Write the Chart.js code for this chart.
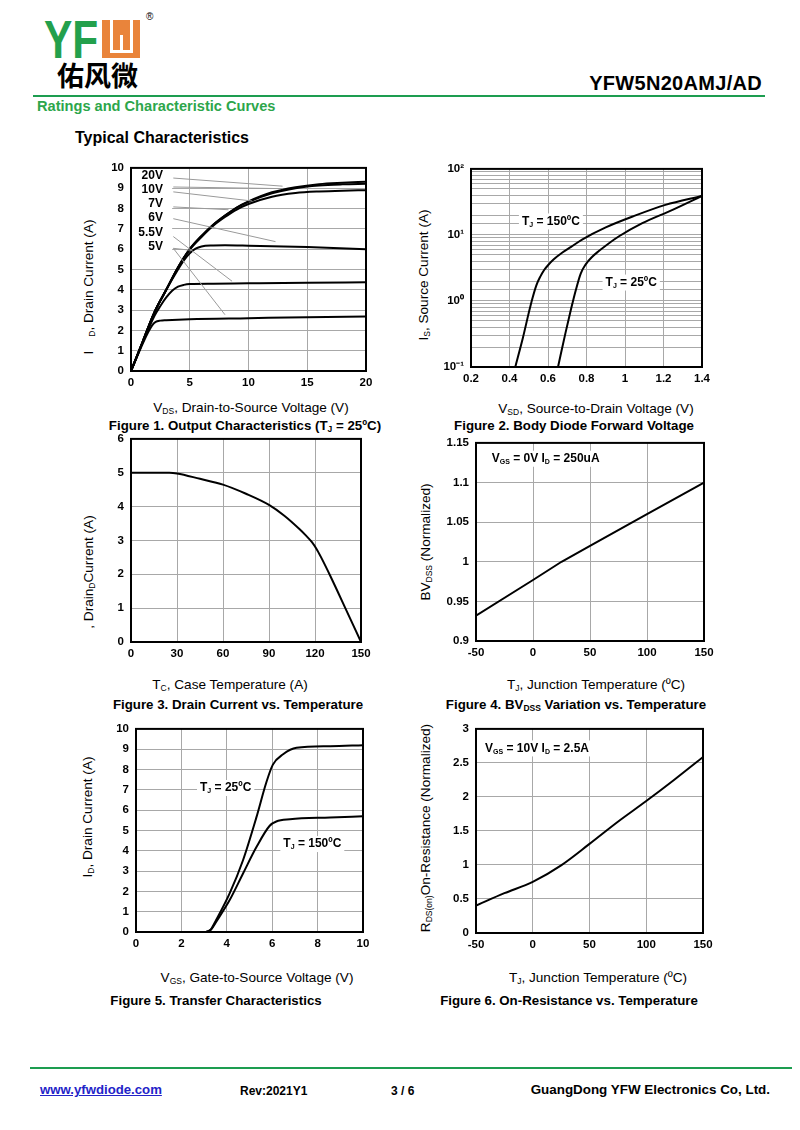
<!DOCTYPE html>
<html>
<head>
<meta charset="utf-8">
<script src="https://cdn.jsdelivr.net/npm/chart.js@4.4.1/dist/chart.umd.min.js"></script>
<style>
body { margin: 0; background: #fff; }
#page { position: relative; width: 800px; height: 1130px; overflow: hidden; font-family: "Liberation Sans", Arial, sans-serif; color: #000; }
.abs { position: absolute; white-space: nowrap; }
canvas { position: absolute; }
.xt { font-size: 13.6px; transform: translate(-50%, -50%); }
.yt { font-size: 13.6px; transform: translate(-50%, -50%) rotate(-90deg); }
.cap { font-size: 13.3px; font-weight: bold; transform: translate(-50%, -50%); }
sub { font-size: 8.5px; vertical-align: -2px; line-height: 0; }
</style>
</head>
<body>
<div id="page">
  <!-- header -->
  <div class="abs" style="left:44px;top:13px;font:bold 53px 'Liberation Sans',Arial;line-height:53px;color:#23a04c;transform:scaleX(0.8);transform-origin:left top;">YF</div>
  <div class="abs" style="left:102px;top:20px;width:38px;height:38px;background:#e9843b;"></div>
  <div class="abs" style="left:110px;top:20px;width:2.5px;height:32px;background:#fff;"></div>
  <div class="abs" style="left:130px;top:20px;width:2.5px;height:32px;background:#fff;"></div>
  <div class="abs" style="left:110px;top:50px;width:22.5px;height:2.5px;background:#fff;"></div>
  <div class="abs" style="left:120px;top:35px;width:2.5px;height:16px;background:#fff;"></div>
  <div class="abs" style="left:146px;top:11px;font-size:10px;">®</div>
  <div class="abs" style="left:57px;top:58px;font:bold 27px 'Noto Sans CJK SC';line-height:34px;">佑风微</div>
  <div class="abs" style="right:38px;top:71px;font-weight:bold;font-size:20px;letter-spacing:0.3px;line-height:24px;">YFW5N20AMJ/AD</div>
  <div class="abs" style="left:33px;top:95px;width:732px;height:2px;background:#1d9d50;"></div>
  <div class="abs" style="left:37px;top:98px;font-weight:bold;font-size:14.6px;line-height:17px;color:#2da64b;">Ratings and Characteristic Curves</div>
  <div class="abs" style="left:75px;top:129px;font-weight:bold;font-size:16px;line-height:18px;">Typical Characteristics</div>

  <!-- axis titles and captions -->
  <div class="abs yt" style="left:88px;top:287px;">I<span style="display:inline-block;width:14px"></span><sub>D</sub>, Drain Current (A)</div>
  <div class="abs xt" style="left:251px;top:407px;">V<sub>DS</sub>, Drain-to-Source Voltage (V)</div>
  <div class="abs cap" style="left:245px;top:425px;">Figure 1. Output Characteristics (T<sub>J</sub> = 25ºC)</div>

  <div class="abs yt" style="left:423px;top:275px;">I<sub>S</sub>, Source Current (A)</div>
  <div class="abs xt" style="left:596px;top:408px;">V<sub>SD</sub>, Source-to-Drain Voltage (V)</div>
  <div class="abs cap" style="left:574px;top:425px;">Figure 2. Body Diode Forward Voltage</div>

  <div class="abs yt" style="left:88px;top:572px;">, Drain<sub>D</sub>Current (A)</div>
  <div class="abs xt" style="left:230px;top:684px;">T<sub>C</sub>, Case Temperature (A)</div>
  <div class="abs cap" style="left:238px;top:704px;">Figure 3. Drain Current vs. Temperature</div>

  <div class="abs yt" style="left:425px;top:542px;">BV<sub>DSS</sub> (Normalized)</div>
  <div class="abs xt" style="left:596px;top:684px;">T<sub>J</sub>, Junction Temperature (ºC)</div>
  <div class="abs cap" style="left:576px;top:704px;">Figure 4. BV<sub>DSS</sub> Variation vs. Temperature</div>

  <div class="abs yt" style="left:87px;top:817px;">I<sub>D</sub>, Drain Current (A)</div>
  <div class="abs xt" style="left:257px;top:977px;">V<sub>GS</sub>, Gate-to-Source Voltage (V)</div>
  <div class="abs cap" style="left:216px;top:1000px;">Figure 5. Transfer Characteristics</div>

  <div class="abs yt" style="left:425px;top:828px;">R<sub>DS(on)</sub>On-Resistance (Normalized)</div>
  <div class="abs xt" style="left:598px;top:977px;">T<sub>J</sub>, Junction Temperature (ºC)</div>
  <div class="abs cap" style="left:569px;top:1000px;">Figure 6. On-Resistance vs. Temperature</div>

  <!-- footer -->
  <div class="abs" style="left:30px;top:1067px;width:762px;height:2px;background:#1d9d50;"></div>
  <div class="abs" style="left:40px;top:1082px;font-weight:bold;font-size:13.2px;color:#2323c8;text-decoration:underline;">www.yfwdiode.com</div>
  <div class="abs" style="left:240px;top:1084px;font-weight:bold;font-size:12px;">Rev:2021Y1</div>
  <div class="abs" style="left:391px;top:1084px;font-weight:bold;font-size:12px;">3 / 6</div>
  <div class="abs" style="right:30px;top:1082px;font-weight:bold;font-size:13.4px;">GuangDong YFW Electronics Co, Ltd.</div>
</div>

<script>
// Figure 1: output characteristics, VDS (V) -> ID (A) per VGS
const vdsTop = [0, 1, 2, 3, 4, 5, 6, 7, 8, 9, 10, 12, 14, 16, 18, 20];
const id20V = [0, 1.45, 2.9, 4.0, 5.1, 6.0, 6.65, 7.2, 7.65, 8.05, 8.35, 8.8, 9.05, 9.2, 9.27, 9.32];
const id10V = [0, 1.45, 2.9, 4.0, 5.1, 6.0, 6.65, 7.2, 7.65, 8.05, 8.33, 8.75, 9.0, 9.13, 9.19, 9.22];
const id7V  = [0, 1.45, 2.9, 4.0, 5.1, 5.98, 6.6, 7.15, 7.58, 7.95, 8.22, 8.58, 8.76, 8.84, 8.88, 8.9];
const vds6V = [0, 1, 2, 3, 4, 4.5, 5, 5.5, 6, 7, 8, 10, 15, 20];
const id6V  = [0, 1.45, 2.9, 4.0, 5.0, 5.45, 5.8, 6.02, 6.13, 6.18, 6.19, 6.17, 6.1, 6.0];
const vds55V = [0, 1, 2, 2.5, 3, 3.5, 4, 4.5, 5, 7, 10, 15, 20];
const id55V  = [0, 1.42, 2.72, 3.2, 3.62, 3.95, 4.15, 4.24, 4.28, 4.3, 4.32, 4.35, 4.37];
const vds5V = [0, 1, 1.5, 1.8, 2.1, 2.5, 3, 5, 10, 15, 20];
const id5V  = [0, 1.35, 1.95, 2.25, 2.42, 2.48, 2.5, 2.55, 2.6, 2.65, 2.68];
const vgsLabels = ['20V', '10V', '7V', '6V', '5.5V', '5V'];
const vgsLabelY = [9.6, 8.91, 8.24, 7.55, 6.83, 6.13];
// leader lines, data units: [x1, y1, x2, y2]
const leaders = [[3.6, 9.5, 12.9, 9.1], [3.6, 9.06, 12.9, 8.98], [3.6, 8.82, 10.3, 8.37], [3.6, 8.08, 8.3, 7.94],
                 [3.6, 7.5, 12.3, 6.37], [3.6, 6.62, 8.6, 4.42], [3.6, 6.04, 8.0, 2.77], [3.6, 6.04, 5.0, 5.95]];

// Figure 2: body diode, VSD (V) -> IS (A)
const vsd150 = [0.43, 0.47, 0.5, 0.52, 0.54, 0.56, 0.58, 0.6, 0.63, 0.673, 0.72, 0.777, 0.9, 1.04, 1.21, 1.4];
const is150  = [0.1, 0.28, 0.66, 1.12, 1.74, 2.34, 2.95, 3.47, 4.27, 5.37, 6.6, 8.5, 13, 19, 28.5, 39];
const vsd25 = [0.652, 0.69, 0.72, 0.745, 0.77, 0.795, 0.83, 0.864, 0.91, 0.969, 1.09, 1.247, 1.4];
const is25  = [0.1, 0.32, 0.76, 1.48, 2.6, 3.55, 4.68, 5.7, 7.24, 9.55, 15.1, 24, 39];

// Figure 3: drain current vs case temperature
const tCase = [0, 25, 30, 45, 60, 75, 90, 100, 110, 114, 118, 121, 124, 130, 140, 150];
const idCase = [5, 5, 4.98, 4.82, 4.65, 4.38, 4.05, 3.73, 3.33, 3.15, 2.95, 2.75, 2.5, 1.95, 0.98, 0];

// Figure 4: BVDSS vs junction temperature
const tjBv = [-50, 0, 25, 50, 100, 150];
const bvNorm = [0.932, 0.977, 1.0, 1.02, 1.06, 1.1];

// Figure 5: transfer characteristics, VGS (V) -> ID (A)
const vgs25 = [0, 2, 3, 3.15, 3.3, 3.53, 4.12, 4.71, 5.3, 5.74, 6.03, 6.48, 7.07, 8.55, 10];
const idT25 = [0, 0, 0, 0.03, 0.13, 0.59, 1.89, 3.52, 5.63, 7.36, 8.24, 8.75, 9.07, 9.15, 9.2];
const vgs150 = [0, 2, 3, 3.15, 3.3, 3.53, 4.12, 4.71, 5.3, 5.89, 6.18, 6.78, 8.55, 10];
const idT150 = [0, 0, 0, 0.03, 0.11, 0.5, 1.56, 2.87, 4.17, 5.23, 5.44, 5.55, 5.64, 5.7];

// Figure 6: RDS(on) vs junction temperature
const tjRds = [-50, -25, 0, 25, 50, 75, 100, 125, 150];
const rdsNorm = [0.403, 0.585, 0.752, 0.995, 1.31, 1.636, 1.94, 2.257, 2.587];

const FONT = '"Liberation Sans", Arial, Helvetica, sans-serif';
const GRID = '#a8a8a8';
const TICK_FONT = { family: FONT, size: 11.5, weight: 'bold' };
const trim = v => String(+(+v).toFixed(2));
const pts = (xs, ys) => xs.map((x, i) => ({ x: x, y: ys[i] }));

function curve(xs, ys, extra) {
  return Object.assign({
    data: pts(xs, ys), borderColor: '#000', borderWidth: 2, pointRadius: 0,
    cubicInterpolationMode: 'monotone', fill: false
  }, extra || {});
}

function axis(pos, min, max, step, extra) {
  const horiz = pos === 'bottom';
  return Object.assign({
    type: 'linear', position: pos, min: min, max: max,
    ticks: {
      stepSize: step, color: '#000', font: TICK_FONT,
      padding: horiz ? 5 : 7, autoSkip: false, maxRotation: 0, callback: trim
    },
    grid: { color: GRID, lineWidth: 1, drawTicks: false },
    border: { display: false },
    afterFit: s => { if (horiz) s.height = 28; else s.width = 50; }
  }, extra || {});
}

// black box round the plot area
const frame = {
  id: 'frame',
  afterDraw(c) {
    const a = c.chartArea, ctx = c.ctx;
    ctx.save();
    ctx.strokeStyle = '#000';
    ctx.lineWidth = 2;
    ctx.strokeRect(a.left, a.top, a.right - a.left, a.bottom - a.top);
    ctx.restore();
  }
};

function partsWidth(ctx, parts) {
  let w = 0;
  parts.forEach(p => {
    ctx.font = p[1] ? 'bold 7px ' + FONT : 'bold 12px ' + FONT;
    w += ctx.measureText(p[0]).width;
  });
  return w;
}

// text notes in data units, with optional white backing
function notes(list, clearBox) {
  const place = (c, n) => {
    const w = partsWidth(c.ctx, n.parts);
    const px = c.scales.x.getPixelForValue(n.x);
    return { left: n.align === 'right' ? px - w : px, y: c.scales.y.getPixelForValue(n.y), w: w };
  };
  return {
    id: 'notes',
    beforeDatasetsDraw(c) {
      const ctx = c.ctx;
      ctx.save();
      ctx.fillStyle = '#fff';
      if (clearBox) {
        const x1 = c.scales.x.getPixelForValue(clearBox[0]), x2 = c.scales.x.getPixelForValue(clearBox[1]);
        const y1 = c.scales.y.getPixelForValue(clearBox[3]), y2 = c.scales.y.getPixelForValue(clearBox[2]);
        ctx.fillRect(x1, y1, x2 - x1, y2 - y1);
      }
      list.forEach(n => {
        if (!n.bg) return;
        const p = place(c, n);
        ctx.fillRect(p.left - 3, p.y - 8, p.w + 6, 16);
      });
      ctx.restore();
    },
    afterDatasetsDraw(c) {
      const ctx = c.ctx;
      ctx.save();
      ctx.fillStyle = '#000';
      ctx.textBaseline = 'middle';
      list.forEach(n => {
        const p = place(c, n);
        let cx = p.left;
        n.parts.forEach(part => {
          ctx.font = part[1] ? 'bold 7px ' + FONT : 'bold 12px ' + FONT;
          ctx.fillText(part[0], cx, part[1] ? p.y + 3.5 : p.y);
          cx += ctx.measureText(part[0]).width;
        });
      });
      ctx.restore();
    }
  };
}

function makeChart(box, datasets, scales, plugins) {
  const cv = document.createElement('canvas');
  const w = box.w + 68, h = box.h + 40;
  cv.width = w; cv.height = h;
  cv.style.left = (box.l - 50) + 'px';
  cv.style.top = (box.t - 12) + 'px';
  cv.style.width = w + 'px';
  cv.style.height = h + 'px';
  document.getElementById('page').appendChild(cv);
  return new Chart(cv.getContext('2d'), {
    type: 'line',
    data: { datasets: datasets },
    options: {
      responsive: false, animation: false, events: [],
      layout: { padding: { left: 0, top: 12, right: 18, bottom: 0 } },
      plugins: { legend: { display: false }, tooltip: { enabled: false } },
      scales: scales
    },
    plugins: [frame].concat(plugins || [])
  });
}

// Figure 1
const fig1Leaders = leaders.map(s => ({
  data: [{ x: s[0], y: s[1] }, { x: s[2], y: s[3] }],
  borderColor: '#9a9a9a', borderWidth: 1, pointRadius: 0, tension: 0, fill: false
}));
makeChart({ l: 131, t: 166, w: 235, h: 205 },
  fig1Leaders.concat([
    curve(vds5V, id5V), curve(vds55V, id55V), curve(vds6V, id6V),
    curve(vdsTop, id7V), curve(vdsTop, id10V), curve(vdsTop, id20V)
  ]),
  { x: axis('bottom', 0, 20, 5), y: axis('left', 0, 10, 1) },
  [notes(vgsLabels.map((t, i) => ({ x: 2.72, y: vgsLabelY[i], align: 'right', parts: [[t]] })), [0.08, 3.5, 5.85, 9.93])]
);

// Figure 2
const sup = { '-1': '10⁻¹', '0': '10⁰', '1': '10¹', '2': '10²' };
makeChart({ l: 471, t: 167, w: 231, h: 200 },
  [curve(vsd150, is150), curve(vsd25, is25)],
  {
    x: axis('bottom', 0.2, 1.4, 0.2),
    y: axis('left', 0.1, 100, undefined, {
      type: 'logarithmic',
      ticks: {
        color: '#000', font: TICK_FONT, padding: 7, autoSkip: false,
        callback: v => {
          const e = Math.log10(v), r = Math.round(e);
          return Math.abs(e - r) < 1e-6 ? sup[String(r)] : '';
        }
      }
    })
  },
  [notes([
    { x: 0.4645, y: 16, bg: true, parts: [['T'], ['J', 1], [' = 150ºC']] },
    { x: 0.899, y: 1.9, bg: true, parts: [['T'], ['J', 1], [' = 25ºC']] }
  ])]
);

// Figure 3
makeChart({ l: 131, t: 437, w: 230, h: 205 },
  [curve(tCase, idCase)],
  { x: axis('bottom', 0, 150, 30), y: axis('left', 0, 6, 1) }
);

// Figure 4
makeChart({ l: 476, t: 441, w: 228, h: 200 },
  [curve(tjBv, bvNorm, { cubicInterpolationMode: 'default', tension: 0 })],
  { x: axis('bottom', -50, 150, 50), y: axis('left', 0.9, 1.15, 0.05) },
  [notes([{ x: -36.2, y: 1.13, bg: true, parts: [['V'], ['GS', 1], [' = 0V I'], ['D', 1], [' = 250uA']] }])]
);

// Figure 5
makeChart({ l: 136, t: 727, w: 227, h: 205 },
  [curve(vgs25, idT25), curve(vgs150, idT150)],
  { x: axis('bottom', 0, 10, 2), y: axis('left', 0, 10, 1) },
  [notes([
    { x: 2.82, y: 7.09, bg: true, parts: [['T'], ['J', 1], [' = 25ºC']] },
    { x: 6.49, y: 4.33, bg: true, parts: [['T'], ['J', 1], [' = 150ºC']] }
  ])]
);

// Figure 6
makeChart({ l: 476, t: 727, w: 227, h: 206 },
  [curve(tjRds, rdsNorm)],
  { x: axis('bottom', -50, 150, 50), y: axis('left', 0, 3, 0.5) },
  [notes([{ x: -42, y: 2.713, bg: true, parts: [['V'], ['GS', 1], [' = 10V I'], ['D', 1], [' = 2.5A']] }])]
);
</script>
</body>
</html>
